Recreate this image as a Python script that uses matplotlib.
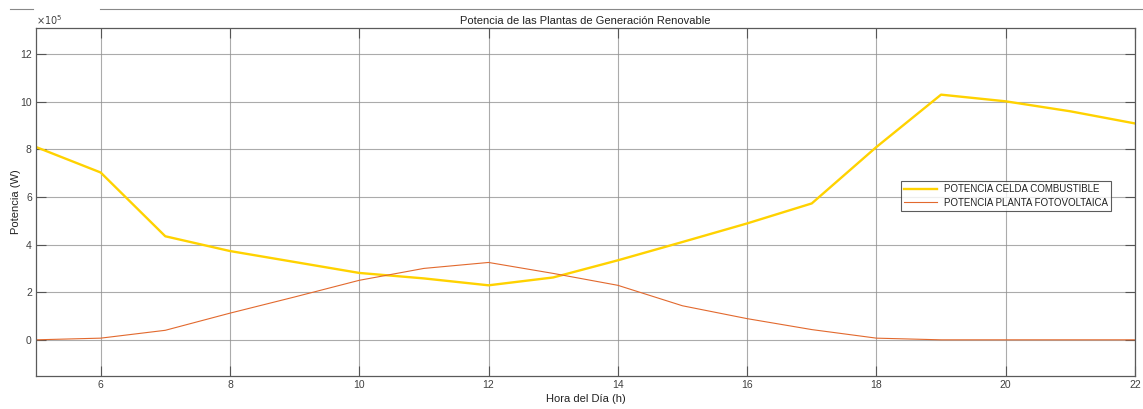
import matplotlib
matplotlib.use('Agg')
import matplotlib.pyplot as plt
from matplotlib.lines import Line2D
from matplotlib.ticker import FuncFormatter
import numpy as np

plt.rcParams['font.family'] = ['Liberation Sans', 'DejaVu Sans']

# Hourly power profiles (values in units of 1e5 W)
horas = np.arange(5, 23)
celda_combustible = [8.10, 7.03, 4.35, 3.73, 3.27, 2.81, 2.58, 2.29, 2.62, 3.34,
                     4.11, 4.89, 5.73, 8.10, 10.30, 10.02, 9.60, 9.09]
planta_fotovoltaica = [0.0, 0.07, 0.40, 1.12, 1.80, 2.50, 3.00, 3.25, 2.79, 2.29,
                       1.43, 0.89, 0.43, 0.07, 0.0, 0.0, 0.0, 0.0]

celda_w = np.array(celda_combustible) * 1e5
fv_w = np.array(planta_fotovoltaica) * 1e5

fig = plt.figure(figsize=(11.43, 4.09), dpi=100)
ax = fig.add_axes([36 / 1143, 1 - 376 / 409, 1099 / 1143, 348 / 409])

ax.plot(horas, celda_w, color='#FFD200', linewidth=1.7,
        label='POTENCIA CELDA COMBUSTIBLE')
ax.plot(horas, fv_w, color='#E2692E', linewidth=0.8,
        label='POTENCIA PLANTA FOTOVOLTAICA')

ax.set_xlim(5, 22)
ax.set_ylim(-1.52e5, 13.1e5)
ax.set_xticks(np.arange(6, 23, 2))
ax.set_yticks(np.arange(0, 13, 2) * 1e5)
ax.yaxis.set_major_formatter(FuncFormatter(lambda v, p: f'{v / 1e5:g}'))

gris = '#404040'
ax.tick_params(direction='in', length=7, width=0.8, colors='#555555',
               labelcolor=gris, labelsize=7.5, top=True, right=True, pad=3)
for s in ax.spines.values():
    s.set_color('#5a5a5a')
    s.set_linewidth(0.9)
ax.grid(True, color='#8f8f8f', linewidth=0.8, alpha=0.75)

ax.text(0.0, 1.004, r'$\times10^{5}$', transform=ax.transAxes,
        fontsize=7, color=gris, ha='left', va='bottom')

ax.set_title('Potencia de las Plantas de Generación Renovable', fontsize=8,
             color='#222222', pad=3)
ax.set_xlabel('Hora del Día (h)', fontsize=8, color='#222222', labelpad=3)
ax.set_ylabel('Potencia (W)', fontsize=8, color='#222222', labelpad=-1)

leg = ax.legend(loc='upper left', bbox_to_anchor=((901 - 36) / 1099, (376 - 181) / 348),
                fontsize=7, frameon=True, fancybox=False, handlelength=3.4,
                borderpad=0.3, labelspacing=0.38, handletextpad=0.7,
                borderaxespad=0)
leg.get_frame().set_edgecolor('#333333')
leg.get_frame().set_linewidth(0.8)
for t in leg.get_texts():
    t.set_color('#222222')

# Thin separator lines along the top edge of the figure
fig.add_artist(Line2D([10 / 1143, 33 / 1143], [1 - 9 / 409] * 2, color='#888888', linewidth=0.8))
fig.add_artist(Line2D([100 / 1143, 1.0], [1 - 9 / 409] * 2, color='#888888', linewidth=0.8))

fig.savefig('out.png', dpi=100)
